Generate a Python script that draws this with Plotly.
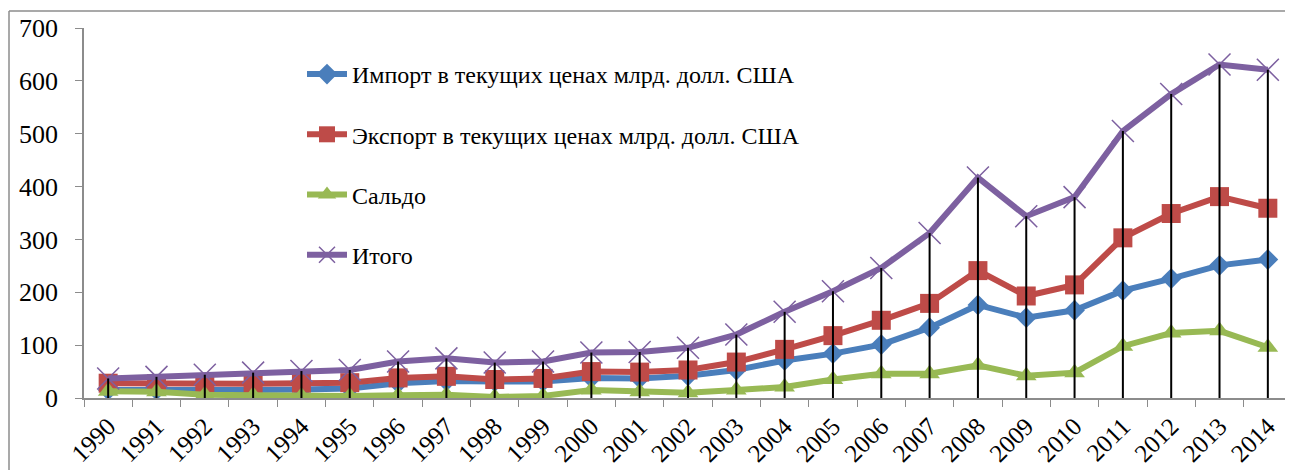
import plotly.graph_objects as go

years = [str(y) for y in range(1990, 2015)]
imports = [15, 15, 13, 15, 16, 18, 28, 32, 31, 31, 38, 37, 42, 53, 71, 84,
           101, 133, 176, 152, 166, 203, 226, 251, 262]
exports = [28, 27, 26, 27, 28, 29, 38, 41, 35, 37, 50, 49, 53, 68, 92, 118,
           147, 179, 241, 193, 214, 303, 349, 381, 359]
saldo = [13, 12, 6, 5, 4, 4, 5, 6, 2, 4, 15, 12, 10, 15, 21, 35,
         46, 46, 62, 42, 48, 98, 123, 127, 96]
total = [37, 40, 44, 48, 51, 53, 69, 75, 67, 69, 86, 87, 95, 120, 163, 202,
         246, 312, 417, 344, 380, 505, 575, 631, 621]

names = ["Импорт в текущих ценах млрд. долл. США",
         "Экспорт в текущих ценах млрд. долл. США",
         "Сальдо",
         "Итого"]

FONT = "Liberation Serif, Times New Roman, serif"

fig = go.Figure()
fig.add_trace(go.Scatter(x=years, y=imports, name=names[0], mode="lines+markers",
                         line=dict(color="#4A7EBB", width=6),
                         marker=dict(symbol="diamond", size=16, color="#4A7EBB"),
                         legendgroup="a"))
fig.add_trace(go.Scatter(x=years, y=exports, name=names[1], mode="lines+markers",
                         line=dict(color="#BE4B48", width=6),
                         marker=dict(symbol="square", size=19, color="#BE4B48"),
                         legendgroup="b"))
fig.add_trace(go.Scatter(x=years, y=saldo, name=names[2], mode="lines+markers",
                         line=dict(color="#98B954", width=6),
                         marker=dict(symbol="triangle-up", size=18, color="#98B954"),
                         legendgroup="c"))
fig.add_trace(go.Scatter(x=years, y=total, name=names[3], mode="lines+markers",
                         line=dict(color="#7D60A0", width=6),
                         marker=dict(symbol="x-thin", size=22,
                                     line=dict(color="#7D60A0", width=1.5)),
                         legendgroup="d"))

# drop lines from the highest series down to the axis
dx, dy = [], []
for yr, t in zip(years, total):
    dx += [yr, yr, None]
    dy += [0, t, None]
fig.add_trace(go.Scatter(x=dx, y=dy, mode="lines", showlegend=False,
                         line=dict(color="black", width=2), hoverinfo="skip"))

# the page body adds an 8px offset, so the figure is laid out 8px smaller
OFF = 8
W, H = 1293 - OFF, 470 - OFF
L, R, T, B = 76, 1, 20, 72
pw, ph = W - L - R, H - T - B

def px2x(px):
    return (px - OFF - L) / pw

def py2y(py):
    return (H - B - (py - OFF)) / ph

# outer chart border (left and top visible)
fig.add_shape(type="line", xref="paper", yref="paper",
              x0=px2x(9), x1=px2x(1310), y0=py2y(11), y1=py2y(11),
              line=dict(color="#8C8C8C", width=1.5))
fig.add_shape(type="line", xref="paper", yref="paper",
              x0=px2x(9), x1=px2x(9), y0=py2y(11), y1=py2y(490),
              line=dict(color="#8C8C8C", width=1.5))

fig.update_layout(
    width=W, height=H,
    margin=dict(l=L, r=R, t=T, b=B, autoexpand=False),
    paper_bgcolor="white", plot_bgcolor="white",
    font=dict(family=FONT, size=24, color="black"),
    showlegend=True,
    legend=dict(x=px2x(302), y=py2y(52), xanchor="left", yanchor="top",
                bgcolor="rgba(0,0,0,0)", font=dict(family=FONT, size=24),
                traceorder="grouped", tracegroupgap=26, itemwidth=40),
)
fig.update_xaxes(type="category", range=[-0.5, 24.5], showline=True,
                 linecolor="#8C8C8C", linewidth=1.5, ticks="outside",
                 tickson="boundaries", ticklen=7, tickcolor="#8C8C8C",
                 tickangle=-45, showgrid=False, zeroline=False,
                 automargin=False, ticklabelstandoff=2,
                 tickfont=dict(family=FONT, size=25))
fig.update_yaxes(range=[0, 700], dtick=100, showline=True,
                 linecolor="#8C8C8C", linewidth=1.5, ticks="outside",
                 ticklen=7, tickcolor="#8C8C8C", showgrid=False,
                 zeroline=False, automargin=False, ticklabelstandoff=12,
                 tickfont=dict(family=FONT, size=26))

fig.write_html("out.html")
